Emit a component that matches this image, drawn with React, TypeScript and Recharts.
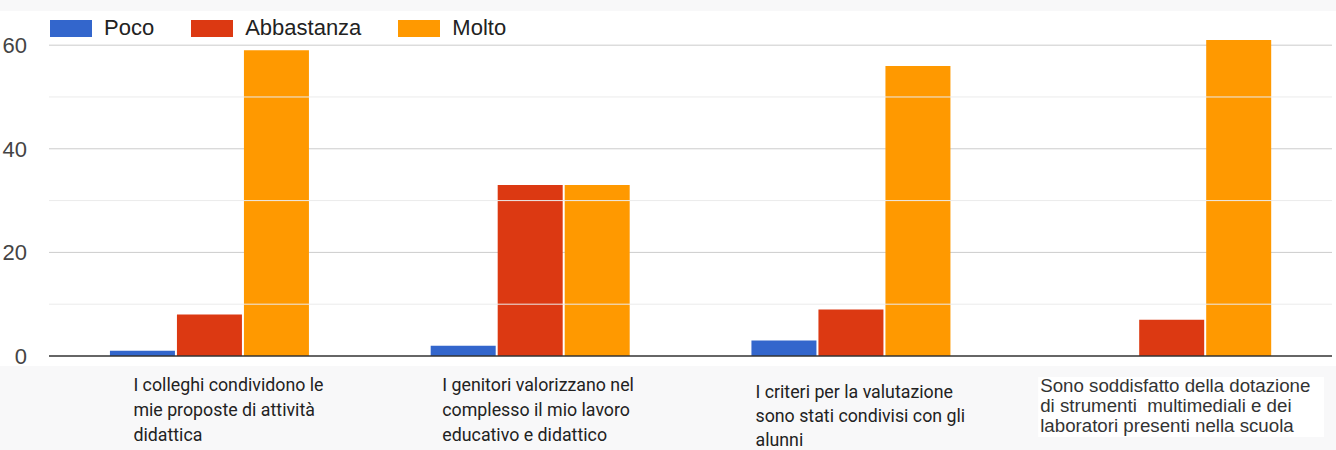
import React from 'react';
import {
  BarChart,
  Bar,
  XAxis,
  YAxis,
  CartesianGrid,
  Legend,
  ReferenceLine,
} from 'recharts';

const categories = [
  ['I colleghi condividono le', 'mie proposte di attività', 'didattica'],
  ['I genitori valorizzano nel', 'complesso il mio lavoro', 'educativo e didattico'],
  ['I criteri per la valutazione', 'sono stati condivisi con gli', 'alunni'],
  ['Sono soddisfatto della dotazione', 'di strumenti  multimediali e dei', 'laboratori presenti nella scuola'],
];

const seriesNames = ['Poco', 'Abbastanza', 'Molto'];
const poco = [1, 2, 3, 0];
const abbastanza = [8, 33, 9, 7];
const molto = [59, 33, 56, 61];

const majorTicks = [0, 20, 40, 60];
const minorTicks = [10, 30, 50];

const data = categories.map((lines, i) => ({
  name: lines.join(' '),
  Poco: poco[i],
  Abbastanza: abbastanza[i],
  Molto: molto[i],
}));

// multi-line category label, left aligned inside a roughly centred block
const CategoryTick = (props: any) => {
  const { x, y, index } = props;
  const lines = categories[index] || [];
  const isLast = index === 3;
  const charW = isLast ? 8.4 : 7.6;
  const longest = Math.max(...lines.map((l) => l.length));
  const shift = isLast ? 3 : index === 0 ? 19 : 11;
  const left = x - (longest * charW) / 2 + shift;
  const lineH = isLast ? 20 : index === 2 ? 24 : 25;
  const top = y + (index === 2 ? 34 : isLast ? 27.5 : 27);
  return (
    <g>
      {isLast && (
        <rect x={left - 2} y={y + 13} width={longest * charW + 17} height={60} fill="#ffffff" />
      )}
      <text
        x={left}
        y={top}
        textAnchor="start"
        fill={isLast ? '#333' : '#222'}
        style={{
          fontFamily: isLast ? '"Liberation Sans", Arial, sans-serif' : 'Roboto, sans-serif',
          fontSize: isLast ? 18.7 : 17.8,
        }}
      >
        {lines.map((l, i) => (
          <tspan key={i} x={left} dy={i === 0 ? 0 : lineH} style={{ whiteSpace: 'pre' }}>
            {l}
          </tspan>
        ))}
      </text>
    </g>
  );
};

const LegendContent = (props: any) => {
  const payload = props.payload || [];
  const ordered = seriesNames
    .map((n) => payload.find((p: any) => p.value === n))
    .filter(Boolean);
  return (
    <div style={{ display: 'flex', alignItems: 'center', height: 26, fontFamily: '"Liberation Sans", Arial, sans-serif', fontSize: 22, color: '#222' }}>
      {ordered.map((p: any) => (
        <div key={p.value} style={{ display: 'flex', alignItems: 'center', marginRight: 37 }}>
          <span style={{ display: 'inline-block', width: 42, height: 17, background: p.color, marginRight: 12 }} />
          <span>{p.value}</span>
        </div>
      ))}
    </div>
  );
};

export default function App() {
  return (
    <div style={{ position: 'absolute', left: 0, top: 0, width: 1336, height: 450, background: '#f8f8f9' }}>
      <div style={{ position: 'absolute', left: 0, top: 11, width: 1336, height: 355, background: '#ffffff' }} />
      <div style={{ position: 'absolute', left: 0, top: 0 }}>
        <BarChart
          width={1336}
          height={450}
          data={data}
          margin={{ top: 40, right: 4, left: 0, bottom: 0 }}
          barGap={2}
          barCategoryGap="19%"
        >
          <CartesianGrid vertical={false} horizontalValues={[20, 40, 60]} stroke="#cccccc" />
          {minorTicks.map((t) => (
            <ReferenceLine key={t} y={t} stroke="#ebebeb" />
          ))}
          <XAxis
            dataKey="name"
            tickLine={false}
            axisLine={{ stroke: '#333', strokeWidth: 1.5 }}
            height={94}
            interval={0}
            tick={<CategoryTick />}
          />
          <YAxis
            width={49}
            domain={[0, 61]}
            ticks={majorTicks}
            tickLine={false}
            axisLine={false}
            tickSize={0}
            tickMargin={22}
            tick={{ fill: '#444', fontSize: 22, fontFamily: '"Liberation Sans", Arial, sans-serif' }}
          />
          <Legend
            verticalAlign="middle"
            align="center"
            layout="horizontal"
            content={<LegendContent />}
            wrapperStyle={{ top: 15, left: 50, width: 700 }}
          />
          <Bar dataKey="Poco" fill="#3366cc" isAnimationActive={false} />
          <Bar dataKey="Abbastanza" fill="#dc3912" isAnimationActive={false} />
          <Bar dataKey="Molto" fill="#ff9900" isAnimationActive={false} />
        </BarChart>
      </div>
    </div>
  );
}
